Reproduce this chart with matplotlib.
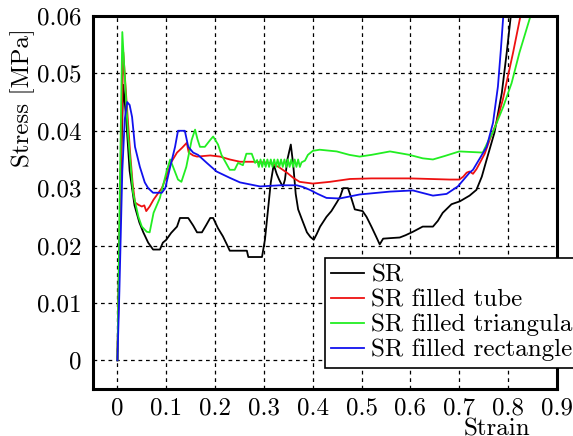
import matplotlib
matplotlib.use("Agg")
import matplotlib.pyplot as plt

# fonts: Computer Modern look
plt.rcParams['font.family'] = 'serif'
plt.rcParams['font.serif'] = ['cmr10', 'DejaVu Serif']
plt.rcParams['mathtext.fontset'] = 'cm'
plt.rcParams['axes.unicode_minus'] = False

# SR
sr_x = [0, 0.006, 0.012, 0.018, 0.025, 0.035, 0.045, 0.053, 0.063, 0.073, 0.087, 0.093,
        0.1, 0.11, 0.122, 0.128, 0.145, 0.155, 0.163, 0.173, 0.182, 0.19, 0.196, 0.206,
        0.216, 0.224, 0.23, 0.265, 0.268, 0.296, 0.302, 0.308, 0.314, 0.32, 0.326, 0.331,
        0.334, 0.337, 0.339, 0.343, 0.348, 0.355, 0.36, 0.365, 0.37, 0.378, 0.388, 0.395,
        0.402, 0.408, 0.415, 0.428, 0.438, 0.449, 0.456, 0.462, 0.472, 0.478, 0.486, 0.502,
        0.51, 0.52, 0.53, 0.537, 0.544, 0.56, 0.578, 0.59, 0.605, 0.625, 0.646, 0.656,
        0.666, 0.684, 0.701, 0.721, 0.735, 0.746, 0.756, 0.772, 0.787, 0.797, 0.808]
sr_y = [0, 0.03, 0.048, 0.042, 0.033, 0.027, 0.024, 0.0223, 0.0205, 0.0193, 0.0193, 0.0205,
        0.021, 0.0222, 0.0233, 0.0248, 0.0248, 0.0235, 0.0223, 0.0223, 0.0236, 0.0248, 0.0248, 0.023,
        0.0216, 0.0202, 0.0191, 0.0191, 0.018, 0.018, 0.021, 0.026, 0.031, 0.0341, 0.0325, 0.0315,
        0.031, 0.0305, 0.0303, 0.0315, 0.035, 0.0376, 0.034, 0.029, 0.0263, 0.0245, 0.0223, 0.0215,
        0.021, 0.022, 0.0233, 0.025, 0.026, 0.0275, 0.0285, 0.030, 0.030, 0.0285, 0.0263, 0.026,
        0.025, 0.0233, 0.0215, 0.0202, 0.0212, 0.0213, 0.0214, 0.0218, 0.0224, 0.0233, 0.0233, 0.0243,
        0.0257, 0.0272, 0.0277, 0.0287, 0.0297, 0.032, 0.035, 0.0397, 0.0466, 0.0536, 0.062]

# SR filled tube
tube_x = [0, 0.006, 0.012, 0.018, 0.026, 0.031, 0.036, 0.043, 0.05, 0.055, 0.059, 0.066,
          0.074, 0.084, 0.091, 0.1, 0.11, 0.122, 0.132, 0.142, 0.146, 0.155, 0.163, 0.19,
          0.21, 0.23, 0.251, 0.278, 0.312, 0.33, 0.347, 0.36, 0.373, 0.4, 0.435, 0.476,
          0.52, 0.56, 0.6, 0.64, 0.68, 0.70, 0.708, 0.715, 0.721, 0.728, 0.735, 0.742,
          0.752, 0.762, 0.776, 0.789, 0.81, 0.828]
tube_y = [0, 0.03, 0.0537, 0.046, 0.0362, 0.031, 0.0275, 0.0271, 0.0268, 0.027, 0.026, 0.0268,
          0.028, 0.0292, 0.030, 0.032, 0.0345, 0.0362, 0.037, 0.0379, 0.0362, 0.0357, 0.0355, 0.0357,
          0.0355, 0.035, 0.0346, 0.0346, 0.0344, 0.0337, 0.0327, 0.0318, 0.0311, 0.0308, 0.0311, 0.0316,
          0.0317, 0.0317, 0.0317, 0.0316, 0.0315, 0.0315, 0.032, 0.0327, 0.0329, 0.0325, 0.0333, 0.0344,
          0.036, 0.0384, 0.0414, 0.0454, 0.0536, 0.0612]

# SR filled triangular
tri_x = [0, 0.005, 0.01, 0.016, 0.022, 0.032, 0.043, 0.05, 0.06, 0.066, 0.074, 0.087,
         0.1, 0.108, 0.114, 0.124, 0.131, 0.141, 0.152, 0.159, 0.164, 0.169, 0.179, 0.19,
         0.196, 0.206, 0.213, 0.23, 0.24, 0.247, 0.257, 0.264, 0.275, 0.282,
         0.286, 0.2895, 0.293, 0.2965, 0.300, 0.3035, 0.307, 0.3105, 0.314, 0.3175,
         0.321, 0.3245, 0.328, 0.3315, 0.335, 0.3385, 0.342, 0.3455, 0.349, 0.3525,
         0.356, 0.3595, 0.363, 0.3665, 0.370, 0.3735, 0.377,
         0.384, 0.39, 0.4, 0.414, 0.449, 0.475, 0.496, 0.52, 0.558, 0.598, 0.625,
         0.646, 0.67, 0.70, 0.748, 0.758, 0.769, 0.79, 0.807, 0.823, 0.85]
tri_y = [0, 0.03, 0.0572, 0.048, 0.039, 0.0292, 0.025, 0.0233, 0.0224, 0.0223, 0.0257, 0.0283,
         0.0327, 0.035, 0.0337, 0.0315, 0.0311, 0.0337, 0.0384, 0.0402, 0.0385, 0.0372, 0.0372, 0.0384,
         0.039, 0.0376, 0.0358, 0.0332, 0.0332, 0.0344, 0.034, 0.036, 0.036, 0.0344,
         0.0349, 0.0337, 0.0350, 0.0337, 0.0350, 0.0337, 0.0350, 0.0337, 0.0350, 0.0337,
         0.0350, 0.0337, 0.0350, 0.0337, 0.0350, 0.0337, 0.0350, 0.0337, 0.0350, 0.0337,
         0.0350, 0.0337, 0.0350, 0.0337, 0.0350, 0.0337, 0.0345,
         0.0348, 0.0358, 0.0365, 0.0367, 0.0364, 0.0358, 0.0355, 0.0358, 0.0364, 0.0358, 0.0352,
         0.035, 0.0356, 0.0364, 0.0362, 0.038, 0.0398, 0.0442, 0.0483, 0.0536, 0.0612]

# SR filled rectangle
rect_x = [0, 0.004, 0.01, 0.015, 0.02, 0.025, 0.03, 0.036, 0.046, 0.056, 0.063, 0.073,
          0.091, 0.098, 0.108, 0.118, 0.124, 0.138, 0.145, 0.155, 0.165, 0.183, 0.203, 0.23,
          0.251, 0.292, 0.333, 0.367, 0.38, 0.394, 0.41, 0.428, 0.455, 0.496, 0.558, 0.605,
          0.646, 0.674, 0.697, 0.721, 0.728, 0.756, 0.769, 0.779, 0.785, 0.791]
rect_y = [0, 0.012, 0.033, 0.042, 0.045, 0.0445, 0.0424, 0.0372, 0.0337, 0.031, 0.030, 0.0292,
          0.0292, 0.030, 0.0337, 0.0372, 0.040, 0.040, 0.0372, 0.0362, 0.0358, 0.0344, 0.0329, 0.0318,
          0.031, 0.0303, 0.0305, 0.0305, 0.0302, 0.0297, 0.029, 0.0283, 0.0282, 0.0289, 0.0294, 0.0296,
          0.0287, 0.029, 0.0303, 0.0327, 0.0332, 0.0372, 0.0414, 0.0477, 0.0541, 0.0612]

labels = ['SR', 'SR filled tube', 'SR filled triangular', 'SR filled rectangle']
x_ticks = [0, 0.1, 0.2, 0.3, 0.4, 0.5, 0.6, 0.7, 0.8, 0.9]
x_tick_labels = ['0', '0.1', '0.2', '0.3', '0.4', '0.5', '0.6', '0.7', '0.8', '0.9']
y_ticks = [0, 0.01, 0.02, 0.03, 0.04, 0.05, 0.06]
y_tick_labels = ['0', '0.01', '0.02', '0.03', '0.04', '0.05', '0.06']

fig = plt.figure(figsize=(5.73, 4.36), dpi=100)
ax = fig.add_axes([0.1623, 0.1078, 0.8098, 0.8555])

ax.plot(sr_x, sr_y, color='black', lw=1.3, label=labels[0])
ax.plot(tube_x, tube_y, color='#ee1111', lw=1.3, label=labels[1])
ax.plot(tri_x, tri_y, color='#22ee22', lw=1.3, label=labels[2])
ax.plot(rect_x, rect_y, color='#1111ee', lw=1.3, label=labels[3])

ax.set_xlim(-0.05, 0.9)
ax.set_ylim(-0.005, 0.06)
ax.set_xticks(x_ticks)
ax.set_xticklabels(x_tick_labels)
ax.set_yticks(y_ticks)
ax.set_yticklabels(y_tick_labels)
ax.tick_params(length=0, labelsize=18)
ax.tick_params(axis='x', pad=6)
ax.tick_params(axis='y', pad=8)

# dashed grid
ax.grid(True, color='black', linestyle=(0, (3, 3)), linewidth=0.9)
for s in ax.spines.values():
    s.set_linewidth(2.2)

ax.set_ylabel('Stress [MPa]', fontsize=18)
ax.yaxis.set_label_coords(-0.125, 0.78)
ax.set_xlabel('Strain', fontsize=18)
ax.xaxis.set_label_coords(0.87, -0.08)

leg = ax.legend(loc='upper left', bbox_to_anchor=(0.5, 0.352), fontsize=18,
                frameon=True, fancybox=False, framealpha=1, edgecolor='black',
                borderpad=0.25, labelspacing=0.1, handlelength=1.3, handletextpad=0.3,
                borderaxespad=0)
leg.get_frame().set_linewidth(1.2)

fig.savefig('out.png', dpi=100)
